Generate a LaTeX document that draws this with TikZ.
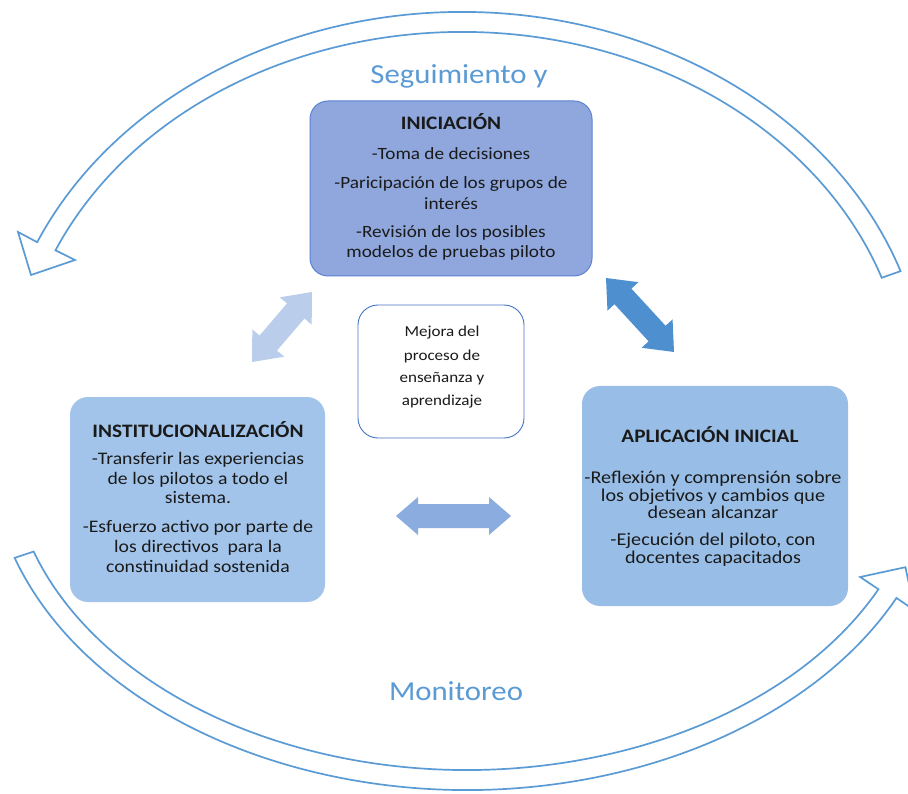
\documentclass[tikz,border=0pt]{standalone}
\usepackage{fontspec}
\setmainfont{Carlito}[FakeStretch=1.12]
\usetikzlibrary{calc}
\definecolor{arcblue}{HTML}{5B9BD5}
\definecolor{iniFill}{HTML}{8FA7DD}
\definecolor{iniDraw}{HTML}{5B82D2}
\definecolor{instFill}{HTML}{A2C4EA}
\definecolor{aplFill}{HTML}{98BEE7}
\definecolor{midDraw}{HTML}{4472C4}
\definecolor{arrL}{HTML}{BACDEB}
\definecolor{arrR}{HTML}{4E8FD0}
\definecolor{arrH}{HTML}{8AACDF}
\definecolor{txtc}{HTML}{1A1A1A}
\newcommand\dblarr[7]{%
  \begin{scope}[shift={#2},rotate=#3]
  \fill[#1] (0,0) -- (#5,#6) -- (#5,#7) -- ({#4-#5},#7) -- ({#4-#5},#6) -- (#4,0)
     -- ({#4-#5},-#6) -- ({#4-#5},-#7) -- (#5,-#7) -- (#5,-#6) -- cycle;
  \end{scope}}
\tikzset{
  band/.style={draw=arcblue, line width=1.7pt, fill=white, line join=miter},
  boxnode/.style={rounded corners=18pt, inner sep=0pt, outer sep=0pt},
  ttl/.style={inner sep=0pt, anchor=base, text=txtc, font=\fontsize{19}{23}\selectfont\bfseries},
  bodyA/.style={inner sep=0pt, anchor=base, text=txtc, font=\fontsize{17.2}{20}\selectfont},
  bodyB/.style={inner sep=0pt, anchor=base, text=txtc, font=\fontsize{17.6}{20}\selectfont},
  bodyC/.style={inner sep=0pt, anchor=base, text=txtc, font=\fontsize{18}{18}\selectfont},
  bodyM/.style={inner sep=0pt, anchor=base, text=txtc, font=\fontsize{15.2}{18}\selectfont},
  biglbl/.style={inner sep=0pt, anchor=base, text=arcblue, font=\fontsize{27.5}{30}\selectfont},
}
\begin{document}
\begin{tikzpicture}[x=1pt,y=1pt]
\useasboundingbox (0,0) rectangle (908,-794);
\clip (0,0) rectangle (908,-794);
\fill[white] (0,0) rectangle (908,-794);
% centres of the two ring bands
\coordinate (C1) at (462,-400);
\coordinate (C2) at (467,-450);
% top band (right -> left)
\draw[band] ($(C1)+(19.4:465pt and 388pt)$)
  arc[start angle=19.4, end angle=156, x radius=465pt, y radius=388pt]
  -- (18,-232) -- (31,-275) -- (75,-260)
  -- ($(C1)+(156:445pt and 368pt)$)
  arc[start angle=156, end angle=19.4, x radius=445pt, y radius=368pt] -- cycle;
% bottom band (left -> right)
\draw[band] ($(C2)+(198.5:477pt and 340pt)$)
  arc[start angle=198.5, end angle=334.2, x radius=477pt, y radius=340pt]
  -- (914.6,-610.3) -- (905.4,-567.2) -- (860.2,-577)
  -- ($(C2)+(334.2:457pt and 320pt)$)
  arc[start angle=334.2, end angle=198.5, x radius=457pt, y radius=320pt] -- cycle;
% labels on the ring
\node[biglbl] (seg) at (459,-84) {Seguimiento y};
\node[biglbl] (mon) at (456,-700) {Monitoreo};
% boxes
\node[boxnode, fill=iniFill, draw=iniDraw, line width=1pt, minimum width=282pt, minimum height=175pt] (ini) at (451,-188.5) {};
\node[boxnode, fill=instFill, minimum width=255pt, minimum height=205pt] (inst) at (197.5,-499.5) {};
\node[boxnode, fill=aplFill, minimum width=266pt, minimum height=220pt] (apl) at (715,-496) {};
\node[boxnode, rounded corners=20pt, fill=white, draw=midDraw, line width=0.9pt, minimum width=166pt, minimum height=133pt] (mid) at (441,-371.5) {};
% double arrows between boxes
\dblarr{arrL}{(252,-362)}{49.4}{92.2}{25}{21}{11.5}
\dblarr{arrR}{(606,-278)}{-47.4}{100.5}{25}{21}{11.5}
\dblarr{arrH}{(396,-516)}{0}{115}{22}{19}{12}
% INICIACION text
\node[ttl] (iniT) at (451,-130) {INICIACIÓN};
\node[bodyA] (ini1) at (451,-160) {-Toma de decisiones};
\node[bodyA] (ini2) at (451,-189) {-Paricipación de los grupos de};
\node[bodyA] (ini3) at (451,-210) {interés};
\node[bodyA] (ini4) at (451,-238) {-Revisión de los posibles};
\node[bodyA] (ini5) at (451,-258) {modelos de pruebas piloto};
% INSTITUCIONALIZACION text
\node[ttl] (instT) at (198,-437) {INSTITUCIONALIZACIÓN};
\node[bodyB] (inst1) at (198,-464) {-Transferir las experiencias};
\node[bodyB] (inst2) at (198,-484) {de los pilotos a todo el};
\node[bodyB] (inst3) at (198,-503) {sistema.};
\node[bodyB] (inst4) at (198,-532) {-Esfuerzo activo por parte de};
\node[bodyB] (inst5) at (198,-552) {los directivos\ \ para la};
\node[bodyB] (inst6) at (198,-572) {constinuidad sostenida};
% APLICACION INICIAL text
\node[ttl] (aplT) at (710,-442) {APLICACIÓN INICIAL};
\node[bodyC] (apl1) at (713,-483) {-Reflexión y comprensión sobre};
\node[bodyC] (apl2) at (713,-501) {los objetivos y cambios que};
\node[bodyC] (apl3) at (713,-518) {desean alcanzar};
\node[bodyC] (apl4) at (713,-545) {-Ejecución del piloto, con};
\node[bodyC] (apl5) at (713,-563) {docentes capacitados};
% centre text
\node[bodyM] (mid1) at (442,-337) {Mejora del};
\node[bodyM] (mid2) at (442,-360) {proceso de};
\node[bodyM] (mid3) at (442,-383) {enseñanza y};
\node[bodyM] (mid4) at (442,-406) {aprendizaje};
\end{tikzpicture}
\end{document}
